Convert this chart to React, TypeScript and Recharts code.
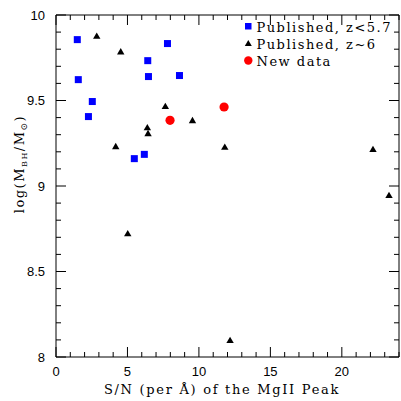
import { ScatterChart, Scatter, XAxis, YAxis, ReferenceLine } from "recharts";

// S/N of the MgII peak vs. log black hole mass
const publishedLowZ = [
  { sn: 1.49, mbh: 9.856 },
  { sn: 7.8, mbh: 9.833 },
  { sn: 6.42, mbh: 9.733 },
  { sn: 1.56, mbh: 9.622 },
  { sn: 6.47, mbh: 9.64 },
  { sn: 8.64, mbh: 9.646 },
  { sn: 2.54, mbh: 9.494 },
  { sn: 2.27, mbh: 9.406 },
  { sn: 5.48, mbh: 9.16 },
  { sn: 6.18, mbh: 9.185 },
];

const publishedZ6 = [
  { sn: 2.85, mbh: 9.877 },
  { sn: 4.53, mbh: 9.786 },
  { sn: 7.65, mbh: 9.466 },
  { sn: 9.55, mbh: 9.384 },
  { sn: 6.39, mbh: 9.342 },
  { sn: 6.44, mbh: 9.308 },
  { sn: 4.18, mbh: 9.232 },
  { sn: 11.81, mbh: 9.228 },
  { sn: 5.02, mbh: 8.722 },
  { sn: 22.18, mbh: 9.215 },
  { sn: 23.3, mbh: 8.946 },
  { sn: 12.18, mbh: 8.098 },
];

const newData = [
  { sn: 7.98, mbh: 9.384 },
  { sn: 11.76, mbh: 9.462 },
];

const xMajorLabels = ["0", "5", "10", "15", "20"];
const yMajorLabels = ["8", "8.5", "9", "9.5", "10"];

const SANS = "'Liberation Sans', Arial, sans-serif";
const SERIF = "'DejaVu Serif', serif";

// plot box (chart margins + 1px axis bands)
const LEFT = 56;
const TOP = 15;
const RIGHT = 399;
const BOTTOM = 357;

// x: 0..24 in steps of 1, major every 5; y: 8..10 in steps of 0.1, major every 0.5
function tickMarks() {
  const out: any[] = [];
  for (let i = 0; i <= 24; i++) {
    const x = LEFT + (i * (RIGHT - LEFT)) / 24;
    const len = i % 5 === 0 ? 10 : 5;
    out.push(<line key={`xb${i}`} x1={x} y1={BOTTOM} x2={x} y2={BOTTOM - len} stroke="#000" strokeWidth={1} />);
    out.push(<line key={`xt${i}`} x1={x} y1={TOP} x2={x} y2={TOP + len} stroke="#000" strokeWidth={1} />);
  }
  for (let j = 0; j <= 20; j++) {
    const y = BOTTOM - (j * (BOTTOM - TOP)) / 20;
    const len = j % 5 === 0 ? 10 : 5;
    out.push(<line key={`yl${j}`} x1={LEFT} y1={y} x2={LEFT + len} y2={y} stroke="#000" strokeWidth={1} />);
    out.push(<line key={`yr${j}`} x1={RIGHT} y1={y} x2={RIGHT - len} y2={y} stroke="#000" strokeWidth={1} />);
  }
  return out;
}

const squareShape = (p: any) => (
  <rect x={p.cx - 3.5} y={p.cy - 3.5} width={7} height={7} fill="#0000ff" />
);
const triangleShape = (p: any) => (
  <polygon
    points={`${p.cx},${p.cy - 3.5} ${p.cx + 3.7},${p.cy + 2.8} ${p.cx - 3.7},${p.cy + 2.8}`}
    fill="#000"
  />
);
const circleShape = (p: any) => <circle cx={p.cx} cy={p.cy} r={4.6} fill="#ff0000" />;

const serifText = { fontFamily: SERIF, fontSize: 13, fill: "#000" };
const sansText = { fontFamily: SANS, fontSize: 13, fill: "#000" };

// tick marks, tick labels, legend and axis titles
function Annotations() {
  return (
    <svg width={401} height={401} style={{ position: "absolute", left: 0, top: 0, pointerEvents: "none" }}>
      <g>{tickMarks()}</g>
      {xMajorLabels.map((t, i) => (
        <text key={`xl${i}`} x={LEFT + (i * 5 * (RIGHT - LEFT)) / 24} y={BOTTOM + 19} textAnchor="middle" {...sansText}>
          {t}
        </text>
      ))}
      {yMajorLabels.map((t, i) => (
        <text key={`ylb${i}`} x={45} y={BOTTOM - (i * (BOTTOM - TOP)) / 4 + 4.5} textAnchor="end" {...sansText}>
          {t}
        </text>
      ))}

      <rect x={245} y={23} width={6.5} height={6.5} fill="#0000ff" />
      <text x={256.5} y={31.5} letterSpacing={1.5} {...serifText}>
        Published, z&lt;5.7
      </text>
      <polygon points="248.3,40 251.8,46 244.8,46" fill="#000" />
      <text x={256.5} y={48.5} letterSpacing={1.5} {...serifText}>
        Published, z~6
      </text>
      <circle cx={248.3} cy={60.5} r={4.2} fill="#ff0000" />
      <text x={256.5} y={65.5} letterSpacing={1.5} {...serifText}>
        New data
      </text>

      <text x={222} y={394} textAnchor="middle" letterSpacing={1.7} {...serifText}>
        S/N (per Å) of the MgII Peak
      </text>
      <text transform="translate(24,164) rotate(-90)" textAnchor="middle" letterSpacing={1.5} {...serifText}>
        log(M<tspan fontSize={8} dy={3}>BH</tspan>
        <tspan dy={-3}>/M</tspan>
        <tspan fontSize={9} dy={3}>⊙</tspan>
        <tspan dy={-3}>)</tspan>
      </text>
    </svg>
  );
}

export default function App() {
  return (
    <div style={{ position: "absolute", left: 0, top: 0, width: 401, height: 401, background: "#fff" }}>
      <ScatterChart width={401} height={401} margin={{ top: 15, right: 2, bottom: 43, left: 55 }}>
        <XAxis
          type="number"
          dataKey="sn"
          domain={[0, 24]}
          height={1}
          tick={false}
          tickLine={false}
          axisLine={{ stroke: "#000" }}
        />
        <YAxis
          type="number"
          dataKey="mbh"
          domain={[8, 10]}
          width={1}
          tick={false}
          tickLine={false}
          axisLine={{ stroke: "#000" }}
        />
        <ReferenceLine y={10} stroke="#000" strokeWidth={1} />
        <ReferenceLine x={24} stroke="#000" strokeWidth={1} />
        <Scatter name="Published, z<5.7" data={publishedLowZ} shape={squareShape} isAnimationActive={false} />
        <Scatter name="Published, z~6" data={publishedZ6} shape={triangleShape} isAnimationActive={false} />
        <Scatter name="New data" data={newData} shape={circleShape} isAnimationActive={false} />
      </ScatterChart>
      <Annotations />
    </div>
  );
}
